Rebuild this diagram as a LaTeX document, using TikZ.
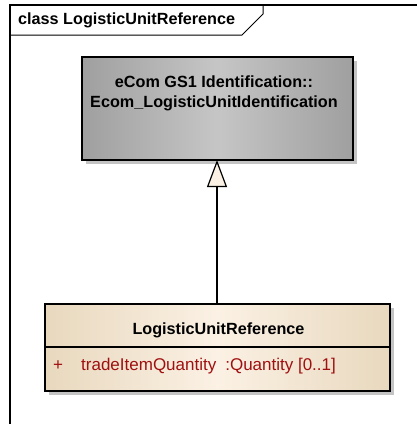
\documentclass[tikz,border=0pt]{standalone}
\usepackage{fontspec}
\setmainfont{Liberation Sans}
\usetikzlibrary{arrows.meta}
\definecolor{attr}{HTML}{A01010}
\definecolor{shadowc}{HTML}{C4C4C4}
\tikzset{
  x=1pt,y=-1pt,
  shadowbox/.style={fill=shadowc,draw=none},
  graybox/.style={draw=black,line width=1.6pt,left color=gray!75,right color=gray!75,middle color=gray!45},
  beigebox/.style={draw=black,line width=1.6pt,left color={rgb,255:red,232;green,216;blue,190},right color={rgb,255:red,232;green,216;blue,190},middle color={rgb,255:red,251;green,241;blue,228}},
  boldtxt/.style={font=\fontsize{16.2}{20}\selectfont\bfseries,align=center,inner sep=0pt},
  attrtxt/.style={anchor=west,inner sep=0pt,text=attr,font=\fontsize{17}{20}\selectfont},
  inherit/.style={-{Triangle[open,length=27pt,width=20pt,fill={rgb,255:red,251;green,241;blue,228}]},line width=1.2pt}
}
\begin{document}
\begin{tikzpicture}
\useasboundingbox (0,0) rectangle (417,424);
% frame
\draw[line width=1.2pt] (10,430) -- (10,5) -- (420,5);
\draw[line width=1pt] (10,35) -- (242,35) -- (263,14) -- (263,5);
\node[boldtxt,anchor=west] (title) at (18,20.5) {class LogisticUnitReference};
% gray class
\fill[shadowbox] (86,61) rectangle (357,164);
\path[graybox] (82,57) rectangle (353,160);
\node[boldtxt] (gtitle) at (214,93) {eCom GS1 Identification::\\Ecom\_LogisticUnitIdentification};
\coordinate (gb) at (217,160);
% beige class
\fill[shadowc] (49,308) rectangle (394,395);
\path[beigebox] (45,304) rectangle (390,391);
\draw[line width=1.4pt] (45,347) -- (390,347);
\node[boldtxt] (btitle) at (218.5,330) {LogisticUnitReference};
\coordinate (bt) at (217,304);
\node[attrtxt] (plus) at (53,366) {+};
\node[attrtxt] (attr) at (81,366) {tradeItemQuantity\hspace{9pt}:Quantity [0..1]};
\draw[inherit] (bt) -- (gb);
\end{tikzpicture}
\end{document}
